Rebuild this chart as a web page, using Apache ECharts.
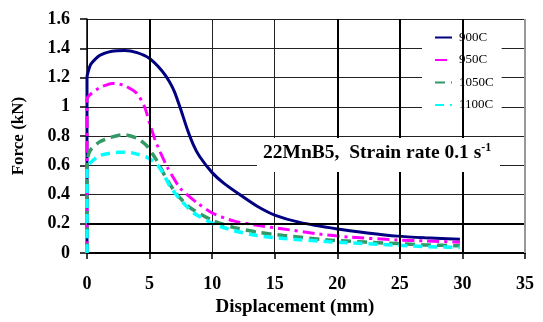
<!DOCTYPE html>
<html><head><meta charset="utf-8">
<script src="https://cdn.jsdelivr.net/npm/echarts@6/dist/echarts.min.js"></script>
<style>html,body{margin:0;padding:0;background:#fff}#c{width:543px;height:322px}</style>
</head><body><div id="c"></div>
<script>
const seriesNames = ['900C', '950C', '1050C', '1100C'];
const d900 = [[0,0],[0,1.2],[0.3,1.29],[1,1.35],[2,1.38],[3,1.385],[4,1.37],[5,1.33],[6,1.245],[6.6,1.17],[7,1.1],[7.5,0.98],[8,0.85],[8.5,0.74],[9,0.66],[10,0.55],[10.9,0.48],[12.2,0.40],[13.6,0.32],[15,0.26],[17,0.21],[20,0.165],[22.4,0.138],[24.8,0.116],[27,0.105],[29.8,0.095]];
const d950 = [[0,0],[0,1.05],[0.2,1.08],[1,1.13],[2,1.16],[3,1.145],[4,1.09],[4.6,1.0],[5.1,0.86],[5.5,0.76],[6.4,0.59],[7.44,0.444],[8.8,0.343],[10.1,0.27],[11.7,0.22],[13.6,0.19],[15.7,0.165],[18.4,0.132],[21,0.109],[24.8,0.09],[27,0.083],[29.8,0.075]];
const d1050 = [[0,0],[0,0.62],[0.24,0.70],[1,0.76],[1.84,0.79],[2.9,0.81],[4,0.785],[4.77,0.734],[5.57,0.634],[6.4,0.5],[7.2,0.40],[8.24,0.31],[10.1,0.22],[11.7,0.176],[13.6,0.143],[15.7,0.12],[19.7,0.087],[24.8,0.065],[27,0.056],[29.8,0.05]];
const d1100 = [[0,0],[0,0.59],[0.3,0.62],[1,0.667],[2.6,0.69],[3.6,0.685],[4.77,0.656],[5.57,0.61],[6.1,0.544],[6.64,0.455],[7.44,0.366],[8.5,0.276],[10.1,0.2],[11.7,0.154],[13.6,0.12],[15.7,0.1],[19.7,0.076],[24.8,0.054],[27,0.045],[29.8,0.038]];
const thickGridX = [5, 20, 25, 30];
const thickGridY = [0.2];
const annotation = '22MnB5,  Strain rate 0.1 s';

const serif = '"Liberation Serif","Times New Roman",serif';
const chart = echarts.init(document.getElementById('c'), null, {renderer: 'canvas'});
const mk = (name, data, color, type, width) => ({
  name, type: 'line', data, showSymbol: false, symbol: 'none', smooth: 0.2,
  lineStyle: {color, width, type, cap: 'butt'}, itemStyle: {color}, z: 3
});
chart.setOption({
  animation: false,
  grid: {left: 87, right: 18, top: 19, bottom: 64},
  xAxis: {
    type: 'value', min: 0, max: 35, interval: 5,
    name: 'Displacement (mm)', nameLocation: 'middle', nameGap: 40,
    nameTextStyle: {fontFamily: serif, fontWeight: 'bold', fontSize: 19, color: '#000', padding: [0, 22, 0, 0]},
    axisLine: {lineStyle: {color: '#000', width: 2}},
    axisTick: {show: true, length: 6, lineStyle: {color: '#000', width: 1.5}},
    axisLabel: {fontFamily: serif, fontWeight: 'bold', fontSize: 18, color: '#000', margin: 22},
    splitLine: {show: true, lineStyle: {color: '#222', width: 1}}
  },
  yAxis: {
    type: 'value', min: 0, max: 1.6, interval: 0.2,
    name: 'Force (kN)', nameLocation: 'middle', nameGap: 60, nameRotate: 90,
    nameTextStyle: {fontFamily: serif, fontWeight: 'bold', fontSize: 17, color: '#000'},
    axisLine: {show: true, lineStyle: {color: '#000', width: 1.5}},
    axisTick: {show: true, length: 7, lineStyle: {color: '#000', width: 1.5}},
    axisLabel: {fontFamily: serif, fontWeight: 'bold', fontSize: 18, color: '#000', margin: 17,
      formatter: v => (Math.round(v * 10) / 10).toString()},
    splitLine: {show: true, lineStyle: {color: '#222', width: 1}}
  },
  legend: {
    data: seriesNames, orient: 'vertical', left: 422, top: 27,
    backgroundColor: '#fff', padding: [4, 8, 8, 12], itemGap: 9.5,
    itemWidth: 17, itemHeight: 14,
    itemStyle: {opacity: 0},
    textStyle: {fontFamily: serif, fontSize: 13, color: '#000', padding: [0, 0, 0, 2]}
  },
  series: [
    {name: 'grid-extra', type: 'line', data: [], z: 1, silent: true,
      markLine: {silent: true, symbol: 'none', label: {show: false},
        lineStyle: {color: '#000', width: 2, type: 'solid'},
        data: thickGridX.map(v => ({xAxis: v})).concat(thickGridY.map(v => ({yAxis: v})))
          .concat([{xAxis: 35, lineStyle: {color: '#999', width: 2}}])}},
    mk('900C', d900, '#000080', 'solid', 3),
    mk('950C', d950, '#ff00ff', [12, 5, 3, 5], 3),
    mk('1050C', d1050, '#339966', [10, 6], 3.5),
    mk('1100C', d1100, '#00ffff', [9, 6], 3.5)
  ],
  graphic: [
    {type: 'rect', left: 257, top: 138, shape: {width: 243, height: 34}, style: {fill: '#fff'}, z: 10},
    {type: 'text', left: 263, top: 142, z: 11,
      style: {text: '{a|' + annotation + '}{sup|-1}', rich: {
        a: {fontFamily: serif, fontWeight: 'bold', fontSize: 19.5, color: '#000'},
        sup: {fontFamily: serif, fontWeight: 'bold', fontSize: 12, color: '#000', padding: [0, 0, 10, 0]}
      }}}
  ]
});
</script></body></html>
